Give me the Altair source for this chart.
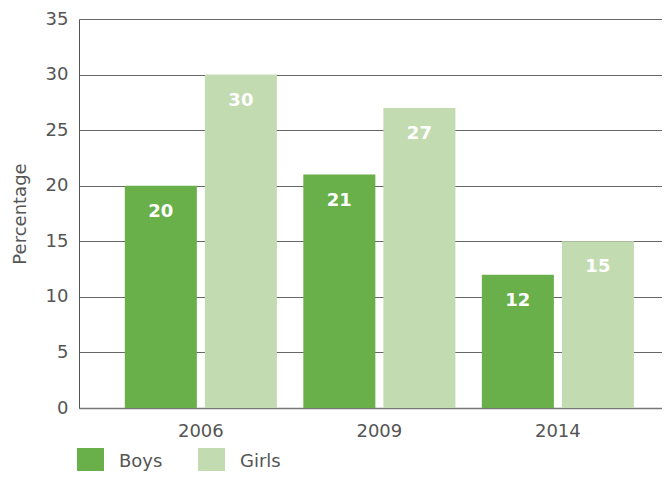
import altair as alt
import pandas as pd

years = ["2006", "2009", "2014"]
boys = [20, 21, 12]
girls = [30, 27, 15]
series = ["Boys", "Girls"]
colors = ["#69b04a", "#c3dbb1"]
y_ticks = [0, 5, 10, 15, 20, 25, 30, 35]

rows = []
for i, yr in enumerate(years):
    rows.append({"year": yr, "gender": "Boys", "value": boys[i]})
    rows.append({"year": yr, "gender": "Girls", "value": girls[i]})
df = pd.DataFrame(rows)

FONT = "DejaVu Sans"
GRAY = "#555555"

base = alt.Chart(df).encode(
    x=alt.X("year:N", sort=years,
            scale=alt.Scale(paddingInner=0.148, paddingOuter=0.207, align=0.62, round=False),
            axis=alt.Axis(title=None, labelAngle=0, labelFontSize=18, labelColor=GRAY,
                          labelFont=FONT, labelPadding=14, ticks=False, domain=True,
                          domainColor="#777777", domainWidth=1.5)),
    xOffset=alt.XOffset("gender:N", sort=series,
                        scale=alt.Scale(paddingInner=0.1, paddingOuter=0, round=False)),
    y=alt.Y("value:Q", scale=alt.Scale(domain=[0, 35], nice=False),
            axis=alt.Axis(title="Percentage", values=y_ticks, titleFontSize=18,
                          titleFont=FONT, titleColor=GRAY, titleFontWeight="normal",
                          titlePadding=16, labelFontSize=18, labelFont=FONT,
                          labelColor=GRAY, labelPadding=11, ticks=False,
                          domainColor="#555555", grid=True, gridColor="#666666",
                          gridWidth=1)),
)

bars = base.mark_bar().encode(
    color=alt.Color("gender:N", sort=series,
                    scale=alt.Scale(domain=series, range=colors),
                    legend=alt.Legend(title=None, orient="none", legendX=-2, legendY=429,
                                      direction="horizontal", symbolType="square",
                                      symbolSize=729, symbolStrokeWidth=0,
                                      symbolOpacity=1, labelFontSize=18,
                                      labelFont=FONT, labelColor=GRAY, labelOffset=15,
                                      columnPadding=35, padding=0))
)

labels = base.mark_text(color="white", fontSize=18, fontWeight="bold", font=FONT,
                        baseline="middle", dy=26).encode(
    text=alt.Text("value:Q")
)

chart = (bars + labels).properties(
    width=583, height=389,
    autosize=alt.AutoSizeParams(type="none"),
    padding={"left": 71, "top": 11, "right": 0, "bottom": 63},
).configure_view(stroke=None)

chart.save("out.html", embed_options={"renderer": "svg", "actions": False})
